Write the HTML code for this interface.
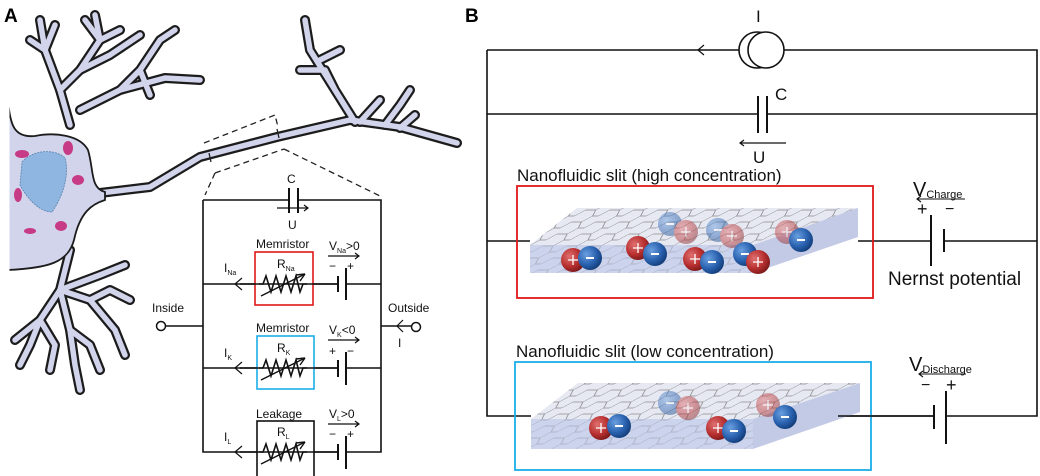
<!DOCTYPE html>
<html><head><meta charset="utf-8"><style>
html,body{margin:0;padding:0;background:#fff;}
svg{display:block;font-family:"Liberation Sans",Arial,sans-serif;}
</style></head><body>
<svg width="1040" height="476" viewBox="0 0 1040 476" xmlns="http://www.w3.org/2000/svg">
<defs>
<radialGradient id="gr" cx="35%" cy="35%" r="70%"><stop offset="0" stop-color="#e07070"/><stop offset="0.6" stop-color="#b83030"/><stop offset="1" stop-color="#7a1818"/></radialGradient>
<radialGradient id="gb" cx="35%" cy="35%" r="70%"><stop offset="0" stop-color="#6aa0e0"/><stop offset="0.6" stop-color="#2a62b0"/><stop offset="1" stop-color="#123c78"/></radialGradient>
<pattern id="hex" width="24" height="12" patternUnits="userSpaceOnUse" patternTransform="skewX(-50)">
<path d="M0 6 L6 6 L10 0 M6 6 L10 12 M10 0 L16 0 M10 12 L16 12 L20 6 L24 6" fill="none" stroke="#666" stroke-width="0.5"/>
</pattern>
<g id="rp"><circle r="12" fill="url(#gr)"/><path d="M-5 0H5M0 -5V5" stroke="#fff" stroke-width="1.3"/></g>
<g id="bm"><circle r="12" fill="url(#gb)"/><path d="M-4 0H4" stroke="#fff" stroke-width="2"/></g>
<g id="res"><path d="M-24 0 L-20 0 L-17 -8 L-12 8 L-7 -8 L-2 8 L3 -8 L8 8 L13 -8 L17 8 L20 0 L24 0" fill="none" stroke="#111" stroke-width="1.6"/><path d="M-22 12 L22 -10" stroke="#111" stroke-width="1.4"/><path d="M22 -10 L13 -9 M22 -10 L17 -3" stroke="#111" stroke-width="1.4"/></g>
</defs>

<text x="4" y="22" font-size="19" font-weight="bold">A</text>
<text x="465" y="22" font-size="19" font-weight="bold">B</text>

<!-- Neuron -->
<g stroke-linecap="round" stroke-linejoin="round" fill="none">
<g stroke="#1c1c1c" stroke-width="10">
<path d="M70 125 L60 90 L45 50 L40 20"/>
<path d="M60 90 L80 70 L100 40 L95 15"/>
<path d="M45 50 L30 40 M45 50 L55 25 M80 70 L110 55 L140 35 M100 40 L120 30 M100 40 L85 20"/>
<path d="M80 110 L120 90 L165 78 L200 80"/>
<path d="M120 90 L140 70 L160 40 L175 30 M140 70 L150 95"/>
<path d="M70 250 L60 290 L40 320 L15 340"/>
<path d="M60 290 L70 330 L75 365 L80 390"/>
<path d="M60 290 L90 300 L115 330 L125 355"/>
<path d="M60 290 L100 275 L125 265"/>
<path d="M40 320 L30 345 L20 365 M40 320 L55 345 L50 370 M90 300 L110 290 L130 300 M70 330 L90 345 L100 370"/>
<path d="M80 196 L100 193 L150 187 L200 157 L277 137 L350 120 L400 127 L457 143"/>
<path d="M355 122 L335 90 L310 50 L305 20 M335 90 L325 70 L300 70 M320 60 L340 50 M360 122 L380 100 M385 125 L400 105 L410 90 M400 128 L415 115"/>
</g>
<g stroke="#d2d4ec" stroke-width="5.5">
<path d="M70 125 L60 90 L45 50 L40 20"/>
<path d="M60 90 L80 70 L100 40 L95 15"/>
<path d="M45 50 L30 40 M45 50 L55 25 M80 70 L110 55 L140 35 M100 40 L120 30 M100 40 L85 20"/>
<path d="M80 110 L120 90 L165 78 L200 80"/>
<path d="M120 90 L140 70 L160 40 L175 30 M140 70 L150 95"/>
<path d="M70 250 L60 290 L40 320 L15 340"/>
<path d="M60 290 L70 330 L75 365 L80 390"/>
<path d="M60 290 L90 300 L115 330 L125 355"/>
<path d="M60 290 L100 275 L125 265"/>
<path d="M40 320 L30 345 L20 365 M40 320 L55 345 L50 370 M90 300 L110 290 L130 300 M70 330 L90 345 L100 370"/>
<path d="M80 196 L100 193 L150 187 L200 157 L277 137 L350 120 L400 127 L457 143"/>
<path d="M355 122 L335 90 L310 50 L305 20 M335 90 L325 70 L300 70 M320 60 L340 50 M360 122 L380 100 M385 125 L400 105 L410 90 M400 128 L415 115"/>
</g>
</g>
<path d="M8 100 C10 125 14 138 35 136 C55 132 80 135 88 150 C94 170 90 188 105 192 L105 200 C92 204 80 212 74 240 C68 262 50 268 8 270 Z" fill="#d2d4ec" stroke="#1c1c1c" stroke-width="1.8"/>
<path d="M8 98 L8 272" stroke="#fff" stroke-width="3"/>
<path d="M22 162 C32 150 55 148 65 158 C70 175 62 198 52 212 C40 212 28 200 20 185 Z" fill="#8fb6e0" stroke="#5580aa" stroke-width="0.8" stroke-dasharray="2 1"/>
<g fill="#c63a86"><ellipse cx="22" cy="154" rx="7" ry="4"/><ellipse cx="68" cy="148" rx="5" ry="7"/><ellipse cx="78" cy="180" rx="6" ry="5"/><ellipse cx="18" cy="195" rx="4" ry="7"/><ellipse cx="30" cy="231" rx="6" ry="3"/><ellipse cx="61" cy="226" rx="6" ry="5"/></g>
<g stroke="#222" stroke-width="1.3" stroke-dasharray="6 4" fill="none">
<path d="M204 143 L275 115 L278 127 M215 173 L284 149"/>
<path d="M215 173 L205 195 M284 149 L380 196"/>
</g>
<g stroke="#222" stroke-width="1.3"><line x1="209" y1="153" x2="211" y2="162"/><line x1="277" y1="129" x2="279" y2="138"/></g>

<!-- Panel A circuit -->
<g stroke="#111" stroke-width="1.6" fill="none">
<path d="M203 200 H289 M298 200 H381 V452 H346 M338 452 H203 V200"/>
<path d="M166 326 H203 M381 326 H411"/>
<path d="M203 284 H338 M346 284 H381 M203 368 H338 M346 368 H381"/>
</g>
<g stroke="#111" stroke-width="2">
<line x1="289" y1="188" x2="289" y2="213"/><line x1="298" y1="188" x2="298" y2="213"/>
<line x1="338" y1="276" x2="338" y2="292"/><line x1="346" y1="268" x2="346" y2="300"/>
<line x1="338" y1="360" x2="338" y2="377"/><line x1="346" y1="352" x2="346" y2="385"/>
<line x1="338" y1="444" x2="338" y2="460"/><line x1="346" y1="436" x2="346" y2="469"/>
</g>
<rect x="255" y="252" width="58" height="53" fill="#fff" stroke="#e01818" stroke-width="1.6"/>
<rect x="257" y="336" width="57" height="53" fill="#fff" stroke="#1aaee8" stroke-width="1.6"/>
<rect x="257" y="421" width="57" height="56" fill="#fff" stroke="#111" stroke-width="1.6"/>
<line x1="240" y1="284" x2="338" y2="284" stroke="#111" stroke-width="1.6"/>
<line x1="240" y1="368" x2="338" y2="368" stroke="#111" stroke-width="1.6"/>
<line x1="240" y1="452" x2="338" y2="452" stroke="#111" stroke-width="1.6"/>
<use href="#res" x="283" y="284"/><use href="#res" x="283" y="368"/><use href="#res" x="283" y="452"/>
<g stroke="#111" stroke-width="1.2" fill="none">
<path d="M242 278 L235 284 L242 290 M242 362 L235 368 L242 374 M242 446 L235 452 L242 458"/>
<path d="M403 320 L397 326 L403 332"/>
<path d="M277 208 H308 M304 205 L308 208 L304 211"/>
<path d="M328 256 H359 M355 253 L359 256 L355 259 M328 340 H359 M355 337 L359 340 L355 343 M328 424 H359 M355 421 L359 424 L355 427"/>
</g>
<circle cx="161" cy="326" r="4.5" fill="#fff" stroke="#111" stroke-width="1.5"/>
<circle cx="416" cy="327" r="4.5" fill="#fff" stroke="#111" stroke-width="1.5"/>
<g font-size="12" fill="#111">
<text x="287" y="183">C</text><text x="288" y="229">U</text>
<text x="256" y="248">Memristor</text><text x="256" y="332">Memristor</text><text x="256" y="418">Leakage</text>
<text x="277" y="268">R<tspan font-size="7" dy="3">Na</tspan></text>
<text x="277" y="352">R<tspan font-size="7" dy="3">K</tspan></text>
<text x="277" y="436">R<tspan font-size="7" dy="3">L</tspan></text>
<text x="224" y="272">I<tspan font-size="7" dy="3">Na</tspan></text>
<text x="224" y="357">I<tspan font-size="7" dy="3">K</tspan></text>
<text x="224" y="441">I<tspan font-size="7" dy="3">L</tspan></text>
<text x="329" y="250">V<tspan font-size="7" dy="3">Na</tspan><tspan dy="-3">&gt;0</tspan></text>
<text x="329" y="334">V<tspan font-size="7" dy="3">K</tspan><tspan dy="-3">&lt;0</tspan></text>
<text x="329" y="418">V<tspan font-size="7" dy="3">L</tspan><tspan dy="-3">&gt;0</tspan></text>
<text x="329" y="270">−</text><text x="347" y="270">+</text>
<text x="329" y="355">+</text><text x="347" y="355">−</text>
<text x="329" y="438">−</text><text x="347" y="438">+</text>
<text x="152" y="312">Inside</text><text x="388" y="312">Outside</text>
<text x="398" y="347">I</text>
</g>

<!-- Panel B circuit -->
<g stroke="#111" stroke-width="1.6" fill="none">
<path d="M487 50 V416 H531 M753 416 H934 M946 416 H1037 V50 H776 M739 50 H487"/>
<path d="M487 114 H758 M767 114 H1037"/>
<path d="M487 241 H530 M858 241 H931 M944 241 H1037"/>
<circle cx="757" cy="50" r="18" fill="#fff"/><circle cx="766" cy="50" r="18" fill="#fff"/>
<path d="M704 45 L698 50 L704 55" stroke-width="1.2"/>
<path d="M758 96 V133 M767 96 V133" stroke-width="2"/>
<path d="M740 143 H786 M744 140 L740 143 L744 146" stroke-width="1.2"/>
<path d="M931 215 V266 M944 229 V252" stroke-width="2"/>
<path d="M934 405 V429 M946 391 V444" stroke-width="2"/>
<path d="M917 199 H965 M921 196 L917 199 L921 202 M919 374 H966 M923 371 L919 374 L923 377" stroke-width="1.1"/>
</g>
<g fill="#111">
<text x="756" y="22" font-size="17">I</text>
<text x="775" y="100" font-size="17">C</text>
<text x="753" y="163" font-size="17">U</text>
<text x="517" y="181" font-size="17">Nanofluidic slit (high concentration)</text>
<text x="516" y="357" font-size="17">Nanofluidic slit (low concentration)</text>
<text x="913" y="196" font-size="20">V<tspan font-size="11" dy="2">Charge</tspan></text>
<text x="909" y="371" font-size="20">V<tspan font-size="11" dy="2">Discharge</tspan></text>
<text x="917" y="215" font-size="18">+</text><text x="945" y="214" font-size="16">−</text>
<text x="921" y="390" font-size="16">−</text><text x="946" y="391" font-size="18">+</text>
<text x="888" y="285" font-size="19">Nernst potential</text>
</g>
<rect x="517" y="186" width="356" height="112" fill="none" stroke="#e01818" stroke-width="1.8"/>
<rect x="515" y="362" width="356" height="108" fill="none" stroke="#1aaee8" stroke-width="1.8"/>

<g>
<polygon points="530,245 577,208 858,208 753,245" fill="#e6e8f2"/>
<polygon points="753,245 858,208 858,237 753,273" fill="#c3cae6"/>
<polygon points="530,245 753,245 753,273 530,273" fill="#ccd3ec"/>
<polygon points="530,245 577,208 858,208 753,245" fill="url(#hex)"/>
<polygon points="530,245 753,245 753,273 530,273" fill="url(#hex)" opacity="0.5"/>
<g opacity="0.45"><use href="#bm" x="670" y="224"/><use href="#rp" x="686" y="232"/><use href="#bm" x="718" y="230"/><use href="#rp" x="732" y="236"/><use href="#rp" x="787" y="232"/></g>
<use href="#rp" x="638" y="248"/><use href="#bm" x="655" y="254"/>
<use href="#rp" x="573" y="260"/><use href="#bm" x="590" y="258"/>
<use href="#rp" x="695" y="259"/><use href="#bm" x="712" y="262"/>
<use href="#bm" x="745" y="254"/><use href="#rp" x="758" y="262"/>
<use href="#bm" x="801" y="240"/>
</g>
<g>
<polygon points="531,419 578,383 860,383 753,419" fill="#e6e8f2"/>
<polygon points="753,419 860,383 860,412 753,449" fill="#c3cae6"/>
<polygon points="531,419 753,419 753,449 531,449" fill="#ccd3ec"/>
<polygon points="531,419 578,383 860,383 753,419" fill="url(#hex)"/>
<polygon points="531,419 753,419 753,449 531,449" fill="url(#hex)" opacity="0.5"/>
<g opacity="0.45"><use href="#bm" x="670" y="403"/><use href="#rp" x="688" y="408"/><use href="#rp" x="768" y="405"/></g>
<use href="#rp" x="601" y="428"/><use href="#bm" x="619" y="426"/>
<use href="#rp" x="718" y="428"/><use href="#bm" x="734" y="431"/>
<use href="#bm" x="785" y="417"/>
</g>
<line x1="838" y1="416" x2="934" y2="416" stroke="#111" stroke-width="1.6"/>
</svg>
</body></html>
